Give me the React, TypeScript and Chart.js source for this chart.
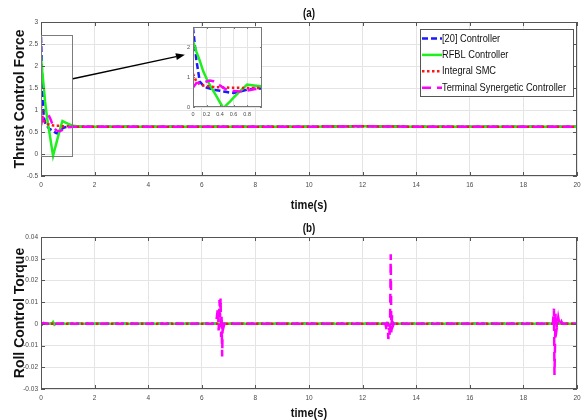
import React, { useEffect, useRef } from 'react';
import { Chart, registerables } from 'chart.js';

Chart.register(...registerables);

// ---------------- Data ----------------
const seriesNames = ['[20] Controller', 'RFBL Controller', 'Integral SMC', 'Terminal Synergetic Controller'];

// Panel (a): thrust control force
const timeA = [0, 0.05, 0.1, 0.15, 0.2, 0.25, 0.3, 0.35, 0.4, 0.45, 0.5, 0.55, 0.6, 0.7, 0.8, 0.9, 1.0, 1.2, 1.5, 2, 4, 6, 8, 10, 12, 14, 16, 18, 20];
const blueA = [2.66, 1.57, 0.85, 0.72, 0.65, 0.62, 0.58, 0.56, 0.54, 0.52, 0.5, 0.48, 0.47, 0.52, 0.58, 0.61, 0.62, 0.62, 0.62, 0.62, 0.62, 0.62, 0.62, 0.62, 0.63, 0.62, 0.62, 0.62, 0.62];
const greenA = [2.2, 1.85, 1.55, 1.2, 0.95, 0.73, 0.54, 0.35, 0.15, -0.04, 0.08, 0.19, 0.31, 0.54, 0.75, 0.72, 0.69, 0.64, 0.62, 0.62, 0.62, 0.62, 0.62, 0.62, 0.63, 0.62, 0.62, 0.62, 0.62];
const redA = [1.1, 0.85, 0.76, 0.72, 0.7, 0.68, 0.67, 0.66, 0.66, 0.65, 0.65, 0.64, 0.64, 0.64, 0.63, 0.63, 0.63, 0.62, 0.62, 0.62, 0.62, 0.62, 0.62, 0.62, 0.63, 0.62, 0.62, 0.62, 0.62];
const magentaA = [0.65, 0.8, 0.82, 0.8, 0.85, 0.88, 0.86, 0.8, 0.72, 0.64, 0.58, 0.55, 0.53, 0.52, 0.55, 0.59, 0.61, 0.62, 0.62, 0.62, 0.62, 0.62, 0.62, 0.62, 0.63, 0.62, 0.62, 0.62, 0.62];

// Panel (b): roll control torque
const timeBBlue = [0, 0.1, 0.3, 20];
const blueB = [-0.0005, 0.0003, 0, 0];
const timeBGreen = [0, 0.4, 0.45, 0.5, 0.55, 20];
const greenB = [0, 0, 0.0008, -0.0004, 0, 0];
const timeBRed = [0, 0.2, 20];
const redB = [0.0003, 0, 0];
const timeBMagenta = [0, 0.1, 0.2, 6.5, 6.55, 6.6, 6.63, 6.66, 6.68, 6.7, 6.72, 6.74, 6.76, 6.78, 6.8, 6.84, 12.85, 12.9, 12.93, 12.96, 12.99, 13.02, 13.05, 13.07, 13.1, 13.13, 13.16, 19.1, 19.14, 19.16, 19.2, 19.25, 19.3, 19.36, 19.42, 19.46, 20];
const magentaB = [-0.0006, 0.0004, 0, 0, 0.002, 0.007, -0.003, 0.011, 0.003, 0.012, -0.006, 0.004, -0.015, 0.001, -0.002, 0, 0, -0.003, 0.001, -0.007, -0.002, -0.006, 0.032, -0.004, 0.004, -0.001, 0, 0, 0.007, -0.0235, 0.005, -0.0015, 0.003, -0.001, 0.001, 0, 0];

// Tick values
const xTicks = [0, 2, 4, 6, 8, 10, 12, 14, 16, 18, 20];
const yTicksA = [-0.5, 0, 0.5, 1, 1.5, 2, 2.5, 3];
const yTicksB = [-0.03, -0.02, -0.01, 0, 0.01, 0.02, 0.03, 0.04];
const insetXTicks = [0, 0.2, 0.4, 0.6, 0.8];
const insetYTicks = [0, 1, 2];

// Zoom annotation (data coords of panel a)
const zoomBox = [0, 1.16, -0.05, 2.7];
const arrowFrom = [1.19, 1.71];
const arrowTo = [5.37, 2.255];

// ---------------- Styles ----------------
const seriesColors = ['#1a1aff', '#1ef01e', '#ff1414', '#ff00ff'];
const seriesDashes: number[][] = [[6, 3], [], [2.5, 2.5], [9, 6]];
const seriesOrder = [3, 2, 1, 0];
const SANS = "'Liberation Sans', Arial, sans-serif";
const GRID = '#e4e4e4';
const FRAME = '#555555';
const NARROW_SCALE = 0.82;

function narrowText(ctx: any, text: string, x: number, y: number, font: string, align: string, color: string) {
  ctx.save();
  ctx.font = font;
  ctx.fillStyle = color;
  ctx.textAlign = align;
  ctx.textBaseline = 'middle';
  ctx.translate(x, y);
  ctx.scale(NARROW_SCALE, 1);
  ctx.fillText(text, 0, 0);
  ctx.restore();
}

function makeDatasets(times: number[][], values: number[][], lw: number) {
  return values.map((vals, i) => ({
    label: seriesNames[i],
    data: vals.map((v, j) => ({ x: times[i][j], y: v })),
    borderColor: seriesColors[i],
    backgroundColor: seriesColors[i],
    borderWidth: lw,
    borderDash: seriesDashes[i],
    borderCapStyle: 'butt',
    pointRadius: 0,
    pointHoverRadius: 0,
    fill: false,
    tension: 0,
    order: seriesOrder[i],
  }));
}

function scaleCfg(min: number, max: number, ticks: number[], o: any) {
  return {
    type: 'linear',
    min,
    max,
    afterBuildTicks: (s: any) => {
      s.ticks = ticks.map((v) => ({ value: v }));
    },
    afterFit: o.afterFit,
    ticks: {
      callback: (v: any) => String(v),
      font: { family: SANS, size: o.tickSize },
      color: '#4a4a4a',
      padding: o.tickPad,
      autoSkip: false,
      maxRotation: 0,
      minRotation: 0,
    },
    grid: { color: GRID, lineWidth: 1, drawTicks: false },
    border: { display: false },
    title: o.title
      ? {
          display: true,
          text: o.title,
          color: '#111',
          font: o.titleFont,
          padding: o.titlePad,
        }
      : { display: false },
  };
}

const framePlugin = {
  id: 'frame',
  afterDatasetsDraw(chart: any, _a: any, opts: any) {
    const { ctx, chartArea: a, scales } = chart;
    const L = opts.tickLen;
    ctx.save();
    ctx.strokeStyle = opts.color;
    ctx.lineWidth = 1;
    ctx.setLineDash([]);
    ctx.beginPath();
    for (const t of scales.x.ticks) {
      const p = Math.round(scales.x.getPixelForValue(t.value)) + 0.5;
      ctx.moveTo(p, a.bottom);
      ctx.lineTo(p, a.bottom - L);
      ctx.moveTo(p, a.top);
      ctx.lineTo(p, a.top + L);
    }
    for (const t of scales.y.ticks) {
      const p = Math.round(scales.y.getPixelForValue(t.value)) + 0.5;
      ctx.moveTo(a.left, p);
      ctx.lineTo(a.left + L, p);
      ctx.moveTo(a.right, p);
      ctx.lineTo(a.right - L, p);
    }
    ctx.stroke();
    ctx.strokeRect(Math.round(a.left) + 0.5, Math.round(a.top) + 0.5, Math.round(a.right - a.left) - 1, Math.round(a.bottom - a.top) - 1);
    ctx.restore();
  },
};

// Panel title above and x-axis title below, drawn in a condensed face
const panelTextPlugin = {
  id: 'panelText',
  afterDraw(chart: any, _a: any, opts: any) {
    const { ctx, chartArea: a } = chart;
    const cx = (a.left + a.right) / 2;
    narrowText(ctx, opts.title, cx, opts.titleY, `bold 12px ${SANS}`, 'center', '#111');
    narrowText(ctx, opts.xTitle, cx, opts.xTitleY, `bold 13.5px ${SANS}`, 'center', '#111');
  },
};

const zoomMarkPlugin = {
  id: 'zoomMark',
  afterDatasetsDraw(chart: any, _a: any, opts: any) {
    const { ctx, scales } = chart;
    const x = scales.x;
    const y = scales.y;
    const [x0, x1, y0, y1] = opts.box;
    ctx.save();
    ctx.setLineDash([]);
    ctx.strokeStyle = '#7c7c7c';
    ctx.lineWidth = 1;
    const l = Math.round(x.getPixelForValue(x0)) + 0.5;
    const r = Math.round(x.getPixelForValue(x1)) + 0.5;
    const t = Math.round(y.getPixelForValue(y1)) + 0.5;
    const b = Math.round(y.getPixelForValue(y0)) + 0.5;
    ctx.strokeRect(l, t, r - l, b - t);
    const sx = x.getPixelForValue(opts.from[0]);
    const sy = y.getPixelForValue(opts.from[1]);
    const ex = x.getPixelForValue(opts.to[0]);
    const ey = y.getPixelForValue(opts.to[1]);
    const ang = Math.atan2(ey - sy, ex - sx);
    const hl = 9;
    const hw = 3.5;
    const bx = ex - hl * Math.cos(ang);
    const by = ey - hl * Math.sin(ang);
    ctx.strokeStyle = '#000';
    ctx.lineWidth = 1.4;
    ctx.beginPath();
    ctx.moveTo(sx, sy);
    ctx.lineTo(bx, by);
    ctx.stroke();
    ctx.fillStyle = '#000';
    ctx.beginPath();
    ctx.moveTo(ex, ey);
    ctx.lineTo(bx + hw * Math.sin(ang), by - hw * Math.cos(ang));
    ctx.lineTo(bx - hw * Math.sin(ang), by + hw * Math.cos(ang));
    ctx.closePath();
    ctx.fill();
    ctx.restore();
  },
};

const legendBoxPlugin = {
  id: 'legendBox',
  afterDraw(chart: any, _a: any, opts: any) {
    const { ctx } = chart;
    const { left, top, width, height, firstY, rowH, sampleW, font } = opts;
    ctx.save();
    ctx.fillStyle = '#fff';
    ctx.fillRect(left, top, width, height);
    ctx.strokeStyle = FRAME;
    ctx.lineWidth = 1;
    ctx.setLineDash([]);
    ctx.strokeRect(left + 0.5, top + 0.5, width, height);
    chart.data.datasets.forEach((ds: any, i: number) => {
      const yy = firstY + i * rowH;
      ctx.setLineDash(ds.borderDash || []);
      ctx.strokeStyle = ds.borderColor;
      ctx.lineWidth = ds.borderWidth;
      ctx.beginPath();
      ctx.moveTo(left + 2, yy);
      ctx.lineTo(left + 2 + sampleW, yy);
      ctx.stroke();
      ctx.setLineDash([]);
      narrowText(ctx, ds.label, left + 2 + sampleW, yy, font, 'left', '#111');
    });
    ctx.restore();
  },
};

const whiteAreaPlugin = {
  id: 'whiteArea',
  beforeDraw(chart: any) {
    const { ctx, chartArea: a } = chart;
    ctx.save();
    ctx.fillStyle = '#fff';
    ctx.fillRect(a.left, a.top, a.right - a.left, a.bottom - a.top);
    ctx.restore();
  },
};

export default function App() {
  const refA = useRef<HTMLCanvasElement>(null);
  const refB = useRef<HTMLCanvasElement>(null);
  const refI = useRef<HTMLCanvasElement>(null);

  useEffect(() => {
    document.body.style.margin = '0';
    const base = {
      animation: false,
      responsive: false,
      devicePixelRatio: 1,
      events: [],
    };

    const chartA = new Chart(refA.current as HTMLCanvasElement, {
      type: 'line',
      data: { datasets: makeDatasets([timeA, timeA, timeA, timeA], [blueA, greenA, redA, magentaA], 2.5) as any },
      options: {
        ...base,
        layout: { padding: { top: 22, right: 11, bottom: 0, left: 0 } },
        plugins: {
          legend: { display: false },
          tooltip: { enabled: false },
          frame: { tickLen: 4, color: FRAME },
          panelText: { title: '(a)', titleY: 14, xTitle: 'time(s)', xTitleY: 205 },
          zoomMark: { box: zoomBox, from: arrowFrom, to: arrowTo },
          legendBox: { left: 420, top: 29, width: 153, height: 67, firstY: 38.5, rowH: 16.4, sampleW: 20, font: `11.3px ${SANS}` },
        } as any,
        scales: {
          x: scaleCfg(0, 20, xTicks, {
            tickSize: 6.5,
            tickPad: 5,
            afterFit: (s: any) => { s.height = 39; },
          }) as any,
          y: scaleCfg(-0.5, 3, yTicksA, {
            tickSize: 6.5,
            tickPad: 3,
            afterFit: (s: any) => { s.width = 41; },
            title: 'Thrust Control Force',
            titleFont: { family: SANS, size: 14, weight: 'bold', lineHeight: 1 },
            titlePad: { top: 13, bottom: 0 },
          }) as any,
        },
      } as any,
      plugins: [framePlugin, zoomMarkPlugin, panelTextPlugin, legendBoxPlugin] as any,
    });

    const chartI = new Chart(refI.current as HTMLCanvasElement, {
      type: 'line',
      data: { datasets: makeDatasets([timeA, timeA, timeA, timeA], [blueA, greenA, redA, magentaA], 2.5) as any },
      options: {
        ...base,
        layout: { padding: { top: 7, right: 4, bottom: 0, left: 0 } },
        plugins: {
          legend: { display: false },
          tooltip: { enabled: false },
          frame: { tickLen: 2, color: '#777' },
        } as any,
        scales: {
          x: scaleCfg(0, 1.02, insetXTicks, {
            tickSize: 5.5,
            tickPad: 4,
            afterFit: (s: any) => { s.height = 13; },
          }) as any,
          y: scaleCfg(0, 2.67, insetYTicks, {
            tickSize: 5.5,
            tickPad: 3,
            afterFit: (s: any) => { s.width = 15; },
          }) as any,
        },
      } as any,
      plugins: [whiteAreaPlugin, framePlugin] as any,
    });

    const chartB = new Chart(refB.current as HTMLCanvasElement, {
      type: 'line',
      data: {
        datasets: makeDatasets([timeBBlue, timeBGreen, timeBRed, timeBMagenta], [blueB, greenB, redB, magentaB], 2.5) as any,
      },
      options: {
        ...base,
        layout: { padding: { top: 22, right: 11, bottom: 0, left: 0 } },
        plugins: {
          legend: { display: false },
          tooltip: { enabled: false },
          frame: { tickLen: 4, color: FRAME },
          panelText: { title: '(b)', titleY: 13.5, xTitle: 'time(s)', xTitleY: 198 },
        } as any,
        scales: {
          x: scaleCfg(0, 20, xTicks, {
            tickSize: 6.5,
            tickPad: 5,
            afterFit: (s: any) => { s.height = 31; },
          }) as any,
          y: scaleCfg(-0.03, 0.04, yTicksB, {
            tickSize: 6.5,
            tickPad: 3,
            afterFit: (s: any) => { s.width = 41; },
            title: 'Roll Control Torque',
            titleFont: { family: SANS, size: 14, weight: 'bold', lineHeight: 1 },
            titlePad: { top: 13, bottom: 0 },
          }) as any,
        },
      } as any,
      plugins: [framePlugin, panelTextPlugin] as any,
    });

    return () => {
      chartA.destroy();
      chartI.destroy();
      chartB.destroy();
    };
  }, []);

  return (
    <div style={{ position: 'relative', width: 588, height: 420, background: '#fff', overflow: 'hidden' }}>
      <canvas ref={refA} width={588} height={215} style={{ position: 'absolute', left: 0, top: 0, display: 'block' }} />
      <canvas ref={refB} width={588} height={205} style={{ position: 'absolute', left: 0, top: 215, display: 'block' }} />
      <canvas ref={refI} width={88} height={100} style={{ position: 'absolute', left: 178, top: 20, display: 'block', pointerEvents: 'none' }} />
    </div>
  );
}
